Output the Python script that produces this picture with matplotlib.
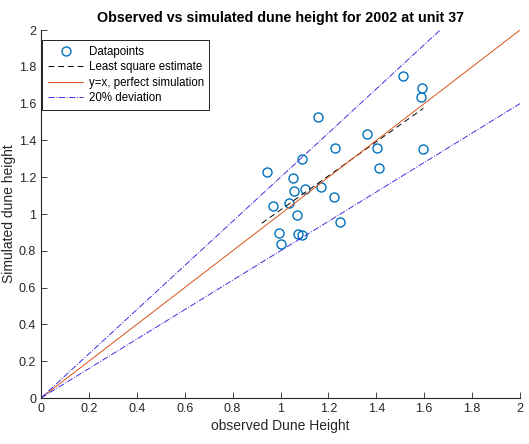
import numpy as np
import matplotlib.pyplot as plt

plt.rcParams["font.family"] = ["Liberation Sans", "DejaVu Sans"]

# observed vs simulated dune height
observed = [0.942, 0.970, 0.995, 1.001, 1.037, 1.051, 1.058, 1.067, 1.072, 1.091,
            1.088, 1.102, 1.155, 1.170, 1.222, 1.228, 1.248, 1.361, 1.404, 1.413,
            1.513, 1.589, 1.587, 1.596]
simulated = [1.228, 1.043, 0.895, 0.837, 1.058, 1.194, 1.127, 0.997, 0.891, 0.886,
             1.297, 1.134, 1.529, 1.145, 1.090, 1.360, 0.954, 1.435, 1.357, 1.248,
             1.750, 1.683, 1.634, 1.352]
deviation = 0.2
ticks = [0, 0.2, 0.4, 0.6, 0.8, 1, 1.2, 1.4, 1.6, 1.8, 2]

obs = np.array(observed)
sim = np.array(simulated)

fig = plt.figure(figsize=(5.29, 4.44), dpi=100)
ax = fig.add_axes([0.0775, 0.1036, 0.9055, 0.8288])

ax.plot(obs, sim, 'o', mfc='none', mec='#0072BD', ms=6.5, mew=1.0, label='Datapoints')

# least square fit over the data range
k, b = np.polyfit(obs, sim, 1)
xf = np.array([obs.min() - 0.02, obs.max()])
ax.plot(xf, k * xf + b, '--', color='black', lw=0.7, dashes=(6, 4), label='Least square estimate')

xl = np.array([0, 2])
ax.plot(xl, xl, '-', color='#D95319', lw=0.7, label='y=x, perfect simulation')
ax.plot(xl, (1 + deviation) * xl, '-.', color='#3a2fe0', lw=0.7, label='20% deviation')
ax.plot(xl, (1 - deviation) * xl, '-.', color='#3a2fe0', lw=0.7)

ax.set_xlim(0, 2)
ax.set_ylim(0, 2)
ax.set_xticks(ticks)
ax.set_yticks(ticks)
ax.set_xticklabels([f"{t:g}" for t in ticks])
ax.set_yticklabels([f"{t:g}" for t in ticks])
ax.tick_params(direction='in', length=4, width=0.6, colors='#262626', labelsize=9)
for side in ['top', 'right']:
    ax.spines[side].set_visible(False)
for side in ['left', 'bottom']:
    ax.spines[side].set_color('#262626')
    ax.spines[side].set_linewidth(0.8)

ax.set_title('Observed vs simulated dune height for 2002 at unit 37',
             fontsize=10.3, fontweight='bold', pad=6)
ax.set_xlabel('observed Dune Height', fontsize=10, color='#262626', labelpad=3)
ax.set_ylabel('Simulated dune height', fontsize=10, color='#262626', labelpad=2)

leg = ax.legend(loc='upper left', bbox_to_anchor=(-0.009, 0.988), fontsize=8.3,
                fancybox=False, edgecolor='black', framealpha=1,
                handlelength=3.0, borderpad=0.5, labelspacing=0.3, handletextpad=0.5)
leg.get_frame().set_linewidth(0.6)

fig.savefig('out.png', dpi=100)
